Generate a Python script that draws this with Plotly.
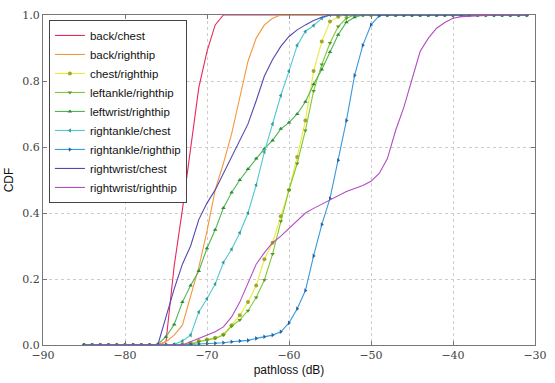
import plotly.graph_objects as go

pathloss = [-85, -84, -83, -82, -81, -80, -79, -78, -77, -76, -75, -74, -73, -72, -71,
            -70, -69, -68, -67, -66, -65, -64, -63, -62, -61, -60, -59, -58, -57, -56,
            -55, -54, -53, -52, -51, -50, -49, -48, -47, -46, -45, -44, -43, -42, -41,
            -40, -39, -38, -37, -36, -35, -34, -33, -32, -31]

back_chest = [0, 0, 0, 0, 0, 0, 0, 0, 0, 0, 0.01, 0.24, 0.41, 0.59, 0.78,
              0.89, 0.97, 1, 1, 1, 1, 1, 1, 1, 1, 1, 1, 1, 1, 1,
              1, 1, 1, 1, 1, 1, 1, 1, 1, 1, 1, 1, 1, 1, 1,
              1, 1, 1, 1, 1, 1, 1, 1, 1, 1]

back_righthip = [0, 0, 0, 0, 0, 0, 0, 0, 0, 0, 0.01, 0.03, 0.06, 0.15, 0.235,
                 0.345, 0.47, 0.55, 0.64, 0.75, 0.86, 0.93, 0.97, 0.99, 1, 1, 1, 1, 1, 1,
                 1, 1, 1, 1, 1, 1, 1, 1, 1, 1, 1, 1, 1, 1, 1,
                 1, 1, 1, 1, 1, 1, 1, 1, 1, 1]

chest_righthip = [0, 0, 0, 0, 0, 0, 0, 0, 0, 0, 0, 0, 0.002, 0.006, 0.012,
                  0.017, 0.022, 0.032, 0.06, 0.09, 0.13, 0.18, 0.26, 0.31, 0.39, 0.47, 0.57, 0.68, 0.83, 0.92,
                  0.98, 0.995, 1, 1, 1, 1, 1, 1, 1, 1, 1, 1, 1, 1, 1,
                  1, 1, 1, 1, 1, 1, 1, 1, 1, 1]

leftankle_righthip = [0, 0, 0, 0, 0, 0, 0, 0, 0, 0, 0, 0, 0, 0.002, 0.01,
                      0.015, 0.02, 0.03, 0.057, 0.076, 0.104, 0.144, 0.197, 0.276, 0.375, 0.47, 0.55, 0.65, 0.77, 0.85,
                      0.915, 0.965, 0.99, 1, 1, 1, 1, 1, 1, 1, 1, 1, 1, 1, 1,
                      1, 1, 1, 1, 1, 1, 1, 1, 1, 1]

leftwrist_righthip = [0, 0, 0, 0, 0, 0, 0, 0, 0, 0.002, 0.025, 0.062, 0.13, 0.18, 0.224,
                      0.293, 0.349, 0.415, 0.462, 0.50, 0.533, 0.565, 0.595, 0.62, 0.655, 0.674, 0.70, 0.737, 0.79, 0.835,
                      0.888, 0.94, 0.978, 0.993, 1, 1, 1, 1, 1, 1, 1, 1, 1, 1, 1,
                      1, 1, 1, 1, 1, 1, 1, 1, 1, 1]

rightankle_chest = [0, 0, 0, 0, 0, 0, 0, 0, 0, 0, 0, 0.002, 0.012, 0.03, 0.10,
                    0.14, 0.185, 0.25, 0.29, 0.34, 0.40, 0.485, 0.585, 0.67, 0.756, 0.83, 0.908, 0.95, 0.968, 0.99,
                    1, 1, 1, 1, 1, 1, 1, 1, 1, 1, 1, 1, 1, 1, 1,
                    1, 1, 1, 1, 1, 1, 1, 1, 1, 1]

rightankle_righthip = [0, 0, 0, 0, 0, 0, 0, 0, 0, 0, 0, 0, 0, 0.002, 0.003,
                       0.004, 0.005, 0.007, 0.01, 0.012, 0.014, 0.02, 0.025, 0.03, 0.04, 0.067, 0.11, 0.165, 0.27, 0.365,
                       0.444, 0.56, 0.68, 0.817, 0.908, 0.97, 0.998, 1, 1, 1, 1, 1, 1, 1, 1,
                       1, 1, 1, 1, 1, 1, 1, 1, 1, 1]

rightwrist_chest = [0, 0, 0, 0, 0, 0, 0, 0, 0, 0, 0.085, 0.17, 0.245, 0.30, 0.38,
                    0.43, 0.47, 0.52, 0.575, 0.625, 0.67, 0.74, 0.815, 0.865, 0.905, 0.935, 0.955, 0.97, 0.983, 0.993,
                    1, 1, 1, 1, 1, 1, 1, 1, 1, 1, 1, 1, 1, 1, 1,
                    1, 1, 1, 1, 1, 1, 1, 1, 1, 1]

rightwrist_righthip = [0, 0, 0, 0, 0, 0, 0, 0, 0, 0, 0, 0, 0, 0.01, 0.02,
                       0.03, 0.04, 0.055, 0.085, 0.13, 0.185, 0.245, 0.28, 0.31, 0.33, 0.353, 0.378, 0.40, 0.414, 0.427,
                       0.44, 0.452, 0.465, 0.474, 0.483, 0.496, 0.52, 0.565, 0.65, 0.72, 0.807, 0.89, 0.93, 0.96, 0.977,
                       0.99, 0.995, 0.997, 0.998, 0.999, 1, 1, 1, 1, 1]

series_names = ["back/chest", "back/righthip", "chest/righthip", "leftankle/righthip",
                "leftwrist/righthip", "rightankle/chest", "rightankle/righthip",
                "rightwrist/chest", "rightwrist/righthip"]
series_values = [back_chest, back_righthip, chest_righthip, leftankle_righthip,
                 leftwrist_righthip, rightankle_chest, rightankle_righthip,
                 rightwrist_chest, rightwrist_righthip]

x_ticks = [-90, -80, -70, -60, -50, -40, -30]
x_tick_text = ["\u221290", "\u221280", "\u221270", "\u221260", "\u221250", "\u221240", "\u221230"]
y_ticks = [0.0, 0.2, 0.4, 0.6, 0.8, 1.0]
y_tick_text = ["0.0", "0.2", "0.4", "0.6", "0.8", "1.0"]

colors = ["#e8285a", "#f5973f", "#eaea3a", "#80c837", "#4cb74f",
          "#52c9cf", "#3a98d9", "#5249b0", "#b24cc2"]
marker_colors = [None, None, "#a6a62a", "#5c9a25", "#2f8a3a", "#2f9a9f", "#1f64a5", None, None]
symbols = [None, None, "circle", "triangle-down", "triangle-up",
           "triangle-left", "triangle-right", None, None]

fig = go.Figure()
for name, vals, col, mc, sym in zip(series_names, series_values, colors, marker_colors, symbols):
    if sym is None:
        fig.add_trace(go.Scatter(x=pathloss, y=vals, name=name, mode="lines",
                                 line=dict(color=col, width=1.1)))
    else:
        fig.add_trace(go.Scatter(x=pathloss, y=vals, name=name, mode="lines+markers",
                                 line=dict(color=col, width=1.1),
                                 marker=dict(symbol=sym, size=4, color=mc,
                                             line=dict(width=0))))

axis_common = dict(
    showline=True, linecolor="#777777", linewidth=1, mirror="ticks",
    ticks="inside", ticklen=4, tickcolor="#777777",
    showgrid=True, gridcolor="#cccccc", griddash="dot", gridwidth=1,
    zeroline=False, ticklabeloverflow="allow",
    tickfont=dict(family="DejaVu Serif", size=11, color="#444444"),
)

fig.update_layout(
    width=555, height=383,
    margin=dict(l=39, r=8, t=15, b=31),
    plot_bgcolor="white", paper_bgcolor="white",
    xaxis=dict(range=[-90, -30], tickvals=x_ticks, ticktext=x_tick_text,
               title=dict(text="pathloss (dB)", standoff=4,
                          font=dict(family="Liberation Sans", size=12, color="#111111")),
               **axis_common),
    yaxis=dict(range=[0, 1], tickvals=y_ticks, ticktext=y_tick_text,
               title=dict(text="CDF", standoff=6,
                          font=dict(family="Liberation Sans", size=12, color="#111111")),
               **axis_common),
    legend=dict(x=0.012, y=0.985, xanchor="left", yanchor="top",
                bgcolor="white", bordercolor="#444444", borderwidth=1,
                font=dict(family="Liberation Sans", size=11.5, color="#111111"),
                tracegroupgap=0),
    showlegend=True,
)

fig.write_html("out.html")
